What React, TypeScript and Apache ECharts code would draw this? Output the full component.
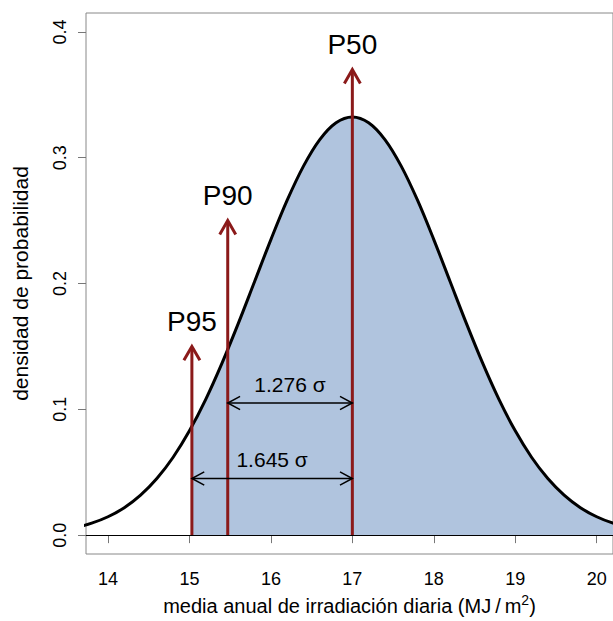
import React, { useEffect, useRef } from "react";
import * as echarts from "echarts";

// Density curve (x in MJ/m², y = density)
const xValues = [13.6, 13.8, 14.0, 14.2, 14.4, 14.6, 14.8, 15.0, 15.2, 15.4, 15.6, 15.8, 16.0, 16.2, 16.4, 16.6, 16.8, 17.0,
  17.2, 17.4, 17.6, 17.8, 18.0, 18.2, 18.4, 18.6, 18.8, 19.0, 19.2, 19.4, 19.6, 19.8, 20.0, 20.2, 20.4];
const densityValues = [0.006, 0.0095, 0.0146, 0.0218, 0.0318, 0.045, 0.0619, 0.0829, 0.1079, 0.1367, 0.1683, 0.2016, 0.2349, 0.2662, 0.2933, 0.3144, 0.3278, 0.3324,
  0.3278, 0.3144, 0.2933, 0.2662, 0.2349, 0.2016, 0.1683, 0.1367, 0.1079, 0.0829, 0.0619, 0.045, 0.0318, 0.0218, 0.0146, 0.0095, 0.006];

// Percentile arrows
const percentileNames = ["P95", "P90", "P50"];
const percentileX = [15.03, 15.47, 17.0];
const arrowTops = [0.15, 0.25, 0.37];
const densityAtP95 = 0.086;

// Sigma distance arrows
const sigmaLabels = ["1.645 σ", "1.276 σ"];
const sigmaFrom = [15.03, 15.47];
const sigmaTo = [17.0, 17.0];
const sigmaHeights = [0.045, 0.105];

// Ticks
const xTicks = [14, 15, 16, 17, 18, 19, 20];
const yTicks = [0, 0.1, 0.2, 0.3, 0.4];

const FONT = "'Liberation Sans', Arial, Helvetica, sans-serif";
const RED = "#8B1A1A";

function chevron(tip: number[], from: number[], len: number, angDeg: number) {
  const dx = from[0] - tip[0];
  const dy = from[1] - tip[1];
  const L = Math.hypot(dx, dy) || 1;
  const ux = dx / L, uy = dy / L;
  const a = (angDeg * Math.PI) / 180;
  const r1 = [ux * Math.cos(a) - uy * Math.sin(a), ux * Math.sin(a) + uy * Math.cos(a)];
  const r2 = [ux * Math.cos(-a) - uy * Math.sin(-a), ux * Math.sin(-a) + uy * Math.cos(-a)];
  return [
    [tip[0] + r1[0] * len, tip[1] + r1[1] * len],
    [tip[0], tip[1]],
    [tip[0] + r2[0] * len, tip[1] + r2[1] * len],
  ];
}

export default function App() {
  const ref = useRef<HTMLDivElement>(null);
  useEffect(() => {
    if (!ref.current) return;
    const chart = echarts.init(ref.current, undefined, { renderer: "svg" });

    const curveData = xValues.map((x, i) => [x, densityValues[i]]);
    const fillData = [[percentileX[0], densityAtP95]].concat(
      xValues.map((x, i) => [x, densityValues[i]]).filter((p) => p[0] > percentileX[0])
    );
    const redArrowData = percentileX.map((x, i) => [x, 0, x, arrowTops[i]]);
    const sigmaArrowData = sigmaFrom.map((x, i) => [x, sigmaHeights[i], sigmaTo[i], sigmaHeights[i]]);

    chart.setOption({
      animation: false,
      backgroundColor: "#ffffff",
      grid: {
        left: 86,
        top: 13,
        width: 529,
        height: 542,
        show: true,
        borderColor: "#888888",
        borderWidth: 1,
        backgroundColor: "transparent",
      },
      xAxis: {
        type: "value",
        min: 13.73,
        max: 20.2,
        axisLine: { show: false },
        splitLine: { show: false },
        axisTick: {
          show: true,
          customValues: xTicks,
          length: 8,
          lineStyle: { color: "#777777", width: 1 },
        },
        axisLabel: {
          customValues: xTicks,
          fontSize: 18,
          fontFamily: FONT,
          color: "#000",
          margin: 16,
          formatter: (v: number) => String(v),
        },
        name: "{main|media anual de irradiación diaria (MJ\u2009/\u2009m}{sup|2}{main|)}",
        nameLocation: "middle",
        nameGap: 38,
        nameTextStyle: {
          fontSize: 20,
          fontFamily: FONT,
          color: "#000",
          rich: {
            main: { fontSize: 20, fontFamily: FONT, color: "#000", lineHeight: 24, verticalAlign: "bottom" },
            sup: { fontSize: 14, fontFamily: FONT, color: "#000", lineHeight: 14, verticalAlign: "bottom", padding: [0, 0, 9, 0] },
          },
        },
      },
      yAxis: {
        type: "value",
        min: -0.015,
        max: 0.415,
        axisLine: { show: false },
        splitLine: { show: false },
        axisTick: {
          show: true,
          customValues: yTicks,
          length: 8,
          lineStyle: { color: "#777777", width: 1 },
        },
        axisLabel: {
          customValues: yTicks,
          rotate: 90,
          fontSize: 18,
          fontFamily: FONT,
          color: "#000",
          margin: 17,
          formatter: (v: number) => v.toFixed(1),
        },
        name: "densidad de probabilidad",
        nameLocation: "middle",
        nameGap: 55,
        nameTextStyle: { fontSize: 21, fontFamily: FONT, color: "#000" },
      },
      series: [
        {
          type: "line",
          data: fillData,
          smooth: 0.35,
          showSymbol: false,
          symbol: "none",
          lineStyle: { width: 0, opacity: 0 },
          areaStyle: { color: "#B0C4DE", opacity: 1 },
          z: 1,
          silent: true,
        },
        {
          type: "line",
          data: curveData,
          smooth: 0.35,
          showSymbol: false,
          symbol: "none",
          lineStyle: { color: "#000", width: 3 },
          z: 2,
          silent: true,
          markLine: {
            silent: true,
            symbol: "none",
            label: { show: false },
            lineStyle: { color: "#000", width: 1, type: "solid" },
            data: [{ yAxis: 0 }],
          },
        },
        {
          type: "custom",
          z: 3,
          silent: true,
          data: redArrowData,
          encode: { x: [0, 2], y: [1, 3] },
          renderItem: (params: any, api: any) => {
            const p1 = api.coord([api.value(0), api.value(1)]);
            const p2 = api.coord([api.value(2), api.value(3)]);
            const head = chevron(p2, p1, 16, 30);
            return {
              type: "group",
              children: [
                {
                  type: "line",
                  shape: { x1: p1[0], y1: p1[1], x2: p2[0], y2: p2[1] + 1 },
                  style: { stroke: RED, lineWidth: 3 },
                },
                {
                  type: "polyline",
                  shape: { points: head },
                  style: { stroke: RED, lineWidth: 3, fill: "none", lineJoin: "miter" },
                },
                {
                  type: "text",
                  style: {
                    text: percentileNames[params.dataIndex],
                    x: p2[0],
                    y: p2[1] - 25,
                    align: "center",
                    verticalAlign: "middle",
                    fontSize: 28,
                    fontFamily: FONT,
                    fill: "#000",
                  },
                },
              ],
            };
          },
        },
        {
          type: "custom",
          z: 4,
          silent: true,
          data: sigmaArrowData,
          encode: { x: [0, 2], y: [1, 3] },
          renderItem: (params: any, api: any) => {
            const p1 = api.coord([api.value(0), api.value(1)]);
            const p2 = api.coord([api.value(2), api.value(3)]);
            const h1 = chevron(p1, p2, 14, 28);
            const h2 = chevron(p2, p1, 14, 28);
            return {
              type: "group",
              children: [
                {
                  type: "line",
                  shape: { x1: p1[0], y1: p1[1], x2: p2[0], y2: p2[1] },
                  style: { stroke: "#000", lineWidth: 1.5 },
                },
                {
                  type: "polyline",
                  shape: { points: h1 },
                  style: { stroke: "#000", lineWidth: 1.5, fill: "none" },
                },
                {
                  type: "polyline",
                  shape: { points: h2 },
                  style: { stroke: "#000", lineWidth: 1.5, fill: "none" },
                },
                {
                  type: "text",
                  style: {
                    text: sigmaLabels[params.dataIndex],
                    x: (p1[0] + p2[0]) / 2,
                    y: p1[1] - 19,
                    align: "center",
                    verticalAlign: "middle",
                    fontSize: 21,
                    fontFamily: FONT,
                    fill: "#000",
                  },
                },
              ],
            };
          },
        },
      ],
    });
    return () => chart.dispose();
  }, []);

  return (
    <div
      ref={ref}
      style={{ position: "absolute", left: 0, top: 0, width: 613, height: 621, background: "#fff" }}
    />
  );
}
